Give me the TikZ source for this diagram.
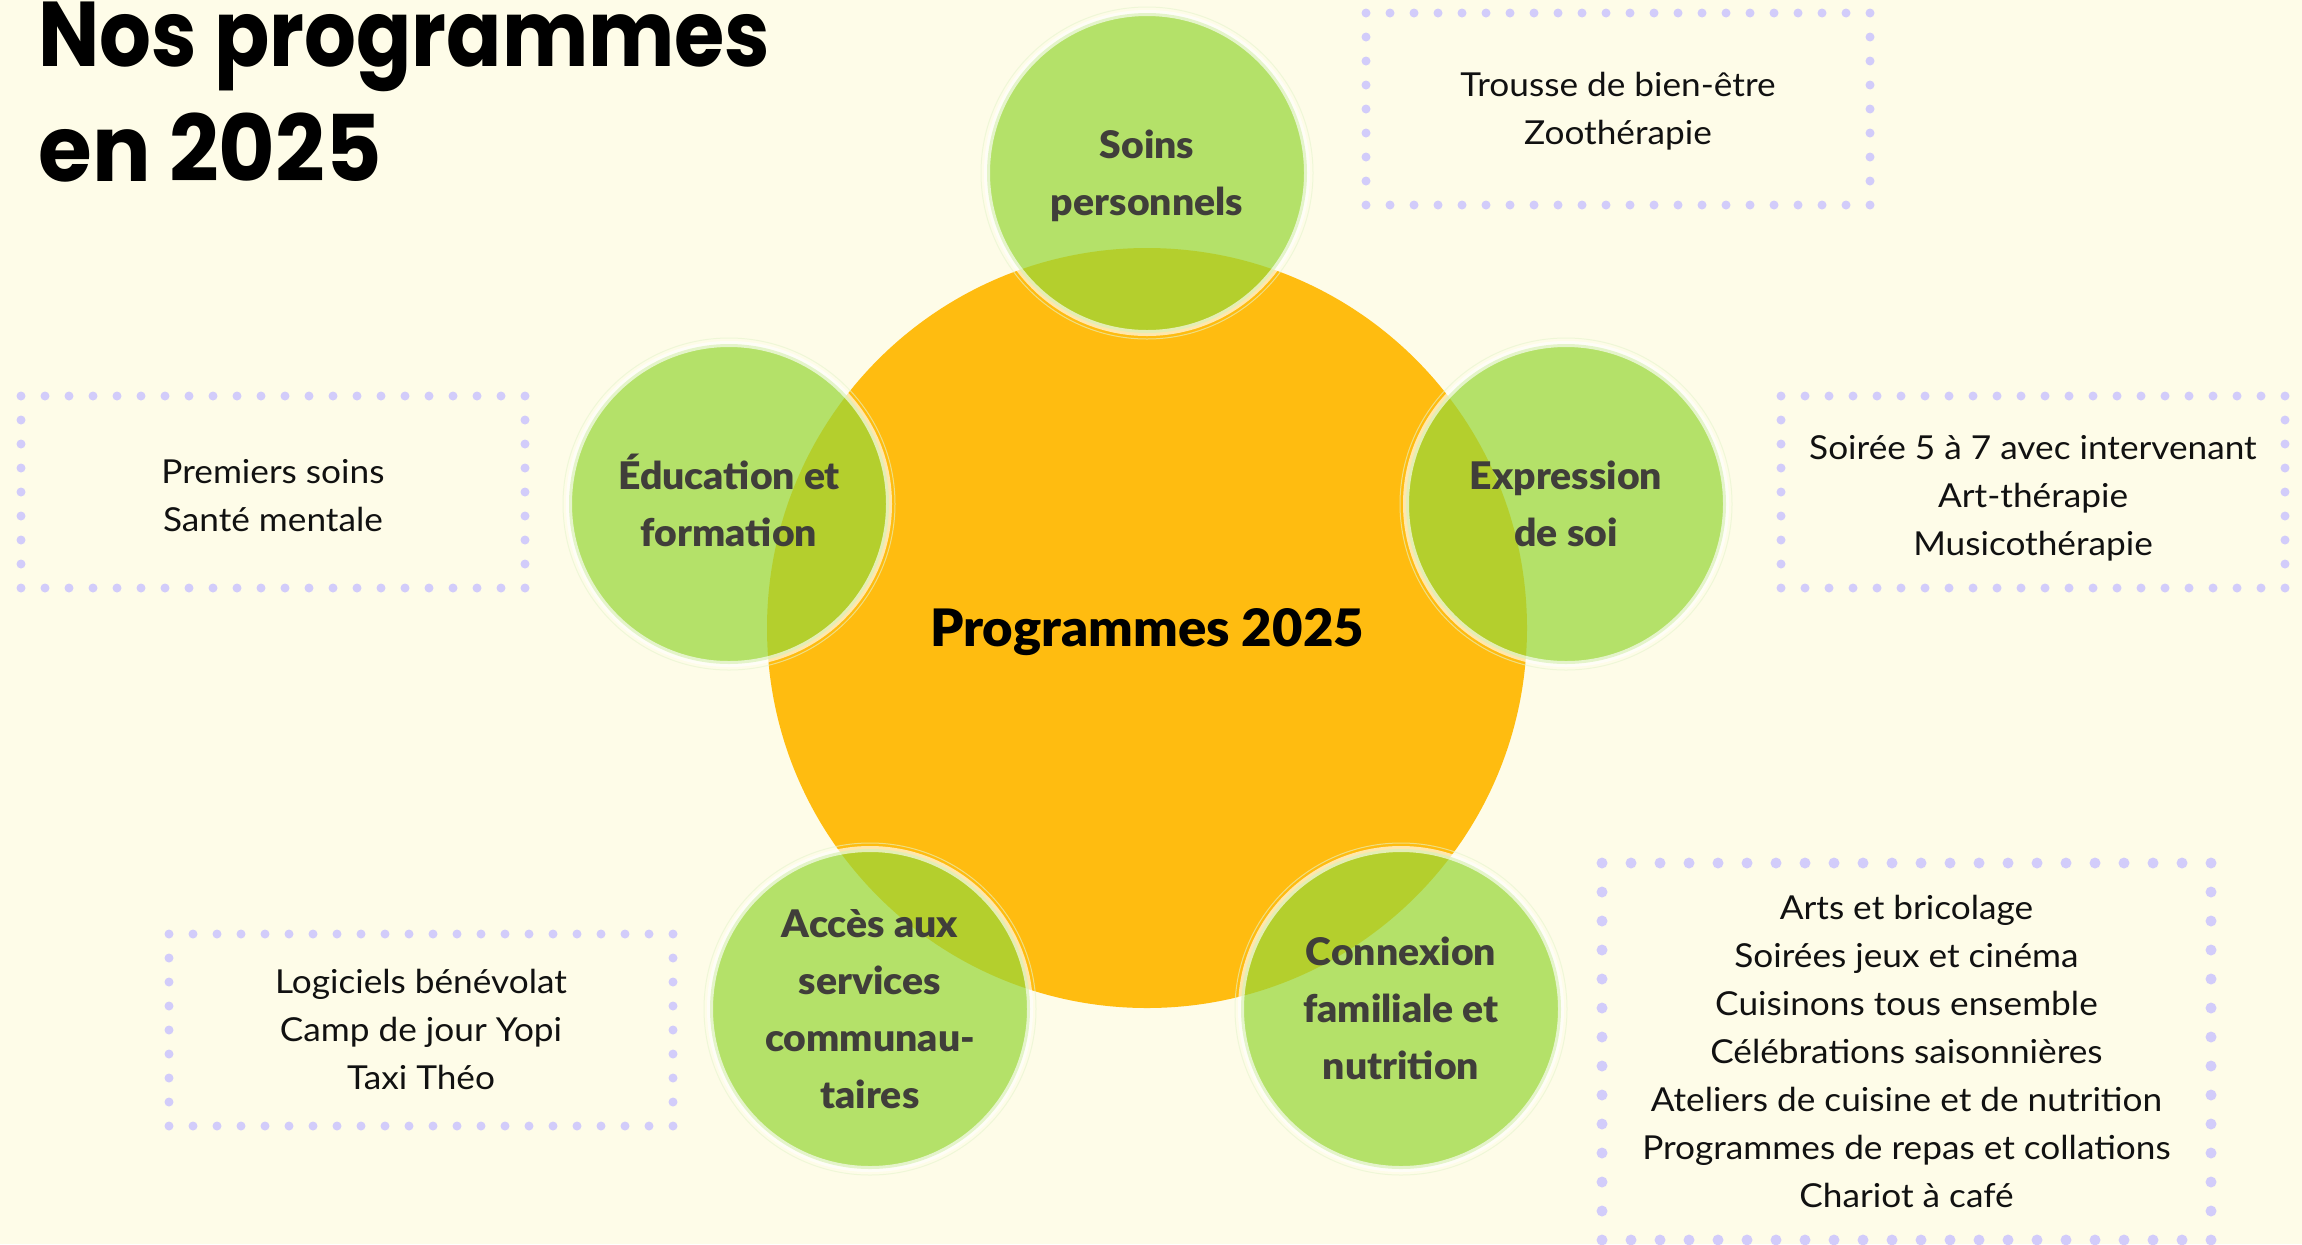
\documentclass[tikz,border=0pt]{standalone}
\usepackage{fontspec}
\setmainfont{Lato}[FakeStretch=1.067]
\newfontfamily\titleA{Poppins}[FakeStretch=0.886]
\newfontfamily\titleB{Poppins}[FakeStretch=0.946]
\newfontfamily\heavyfont{Lato Black}[FakeStretch=1.02]
\newfontfamily\labelfont{Lato Black}[FakeStretch=1.03]
\definecolor{bg}{HTML}{FEFCE8}
\definecolor{sun}{HTML}{FFBC10}
\definecolor{leaf}{RGB}{152,215,57}
\definecolor{dotc}{HTML}{D2CCFA}
\definecolor{labelc}{HTML}{403E3A}
\definecolor{inkc}{HTML}{111111}
% cap-centred text: top strut = cap height + depth strut
\newcommand\capl[1]{\rule{0pt}{1.0165em}#1\rule[-0.3em]{0pt}{0pt}}
\newcommand\capb[1]{\rule{0pt}{\dimexpr1.0165em+4pt\relax}#1\rule[-0.3em]{0pt}{0pt}}
\newcommand\capp[1]{\rule{0pt}{0.997em}#1\rule[-0.3em]{0pt}{0pt}}
\begin{document}
\begin{tikzpicture}[x=0.5pt,y=-0.5pt,
  hub/.style={circle,fill=sun,inner sep=0pt,minimum size=380pt,
    font=\heavyfont\fontsize{25.8pt}{30pt}\selectfont,text=black},
  sat/.style={circle,inner sep=0pt,minimum size=160pt,fill=leaf,fill opacity=0.72,
    draw=white,draw opacity=0.65,line width=3pt,text opacity=1,text=labelc,align=center,
    font=\labelfont\fontsize{19pt}{28.5pt}\selectfont},
  halo/.style={draw=leaf!25,line width=0.5pt,opacity=0.6},
  dotbox/.style={draw=dotc,line width=4.5pt,line cap=round,dash pattern=on 0pt off 12pt,
    inner sep=0pt,minimum width=252pt,minimum height=96pt,align=center,text=inkc,
    font=\fontsize{16.5pt}{24pt}\selectfont},
  bigdotbox/.style={dotbox,line width=5.5pt,dash pattern=on 0pt off 14.5pt,
    minimum width=304.5pt,minimum height=188.5pt},
  titlestyle/.style={anchor=west,align=left,inner sep=0pt,text=black,
    font=\bfseries\fontsize{46pt}{57.5pt}\selectfont}
]
\useasboundingbox (0,0) rectangle (2302,1244);
\fill[bg] (0,0) rectangle (2302,1244);

\node[titlestyle] (title) at (38,91.5) {\capp{{\titleA\bfseries Nos programmes}\\{\titleB\bfseries en 2025}}};

\node[hub] (hub) at (1147,628) {\capl{Programmes 2025}};

\foreach \n/\p in {soins/{1147,173},educ/{729,504},expr/{1566,504},acces/{870,1009},conn/{1401,1009}}
  \draw[halo] (\p) circle[radius=83pt];

\node[sat] (soins) at (1147,173) {\capl{Soins\\personnels}};
\node[sat] (educ)  at (729,504)  {\capl{Éducation et\\formation}};
\node[sat] (expr)  at (1566,504) {\capl{Expression\\de soi}};
\node[sat] (acces) at (870,1009) {\capl{Accès aux\\services\\communau-\\taires}};
\node[sat] (conn)  at (1401,1009) {\capl{Connexion\\familiale et\\nutrition}};

\node[dotbox] (bsoins) at (1618,109) {\capl{Trousse de bien-être\\Zoothérapie}};
\node[dotbox] (beduc)  at (273,492)  {\capb{Premiers soins\\Santé mentale}};
\node[dotbox] (bexpr)  at (2033,492) {\capb{Soirée 5 à 7 avec intervenant\\Art-thérapie\\Musicothérapie}};
\node[dotbox] (bacces) at (421,1030) {\capl{Logiciels bénévolat\\Camp de jour Yopi\\Taxi Théo}};
\node[bigdotbox] (bconn) at (1906.5,1051.5) {\capl{Arts et bricolage\\Soirées jeux et cinéma\\Cuisinons tous ensemble\\Célébrations saisonnières\\Ateliers de cuisine et de nutrition\\Programmes de repas et collations\\Chariot à café}};
\end{tikzpicture}
\end{document}
